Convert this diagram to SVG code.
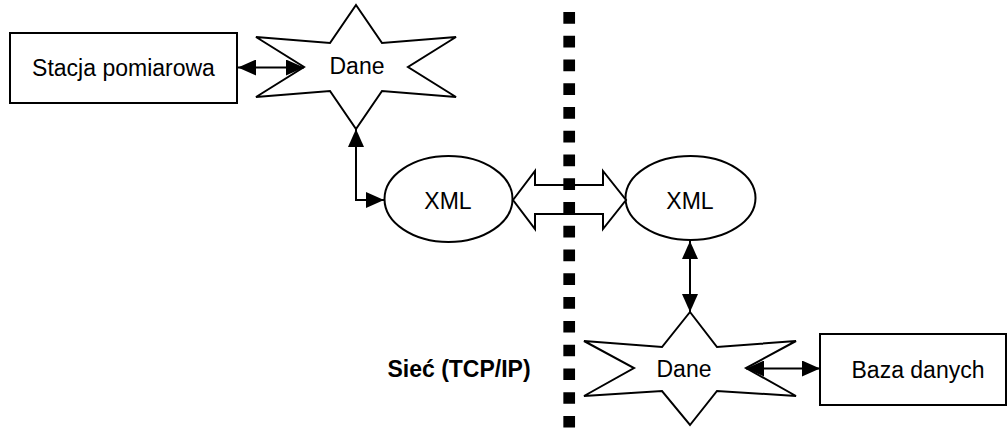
<svg xmlns="http://www.w3.org/2000/svg" width="1008" height="428" viewBox="0 0 1008 428">
  <style>
    .shape { fill: #fff; stroke: #000; stroke-width: 2; stroke-linejoin: miter; }
    .label { font-family: "Liberation Sans", Arial, sans-serif; font-size: 23px; fill: #000; text-anchor: middle; }
    .bold { font-weight: bold; }
    .conn { fill: none; stroke: #000; stroke-width: 2; }
  </style>
  <defs>
    <marker id="arrow" markerUnits="userSpaceOnUse" markerWidth="18" markerHeight="16" refX="18" refY="8" orient="auto-start-reverse">
      <path d="M0,0 L18,8 L0,16 z" fill="#000"/>
    </marker>
  </defs>

  <rect width="1008" height="428" fill="#fff"/>

  <g id="stacja">
    <rect class="shape" x="10" y="33" width="227" height="70"/>
    <text class="label" x="123.5" y="76">Stacja pomiarowa</text>
  </g>

  <g id="dane1">
    <polygon class="shape" points="356,5 382,43 456,37 408,67 456,97 382,91 356,129 330,91 256,97 304,67 256,37 330,43"/>
    <text class="label" x="357" y="74">Dane</text>
  </g>

  <g id="xml1">
    <ellipse class="shape" cx="448.5" cy="199" rx="64" ry="43"/>
    <text class="label" x="448" y="209">XML</text>
  </g>

  <g id="xml2">
    <ellipse class="shape" cx="690.5" cy="198" rx="65" ry="42"/>
    <text class="label" x="690" y="209">XML</text>
  </g>

  <g id="dane2">
    <polygon class="shape" points="690,312 717,347 796,341 746,368 796,396 717,391 690,425 662,391 584,396 634,368 584,341 662,347"/>
    <text class="label" x="684" y="377">Dane</text>
  </g>

  <g id="baza">
    <rect class="shape" x="820" y="334" width="186" height="71"/>
    <text class="label" x="918" y="378">Baza danych</text>
  </g>

  <g id="siec">
    <text class="label bold" x="459" y="377">Sieć (TCP/IP)</text>
  </g>

  <g id="connectors">
    <line class="conn" x1="238" y1="67.5" x2="304" y2="67.5" marker-start="url(#arrow)" marker-end="url(#arrow)"/>
    <polyline class="conn" points="356,129 356,200 384,200" marker-start="url(#arrow)" marker-end="url(#arrow)"/>
    <polygon class="shape" points="513,200 535,171 535,185 603,185 603,171 626,200 603,229 603,214 535,214 535,229"/>
    <line class="conn" x1="690" y1="241" x2="690" y2="312" marker-start="url(#arrow)" marker-end="url(#arrow)"/>
    <line class="conn" x1="746" y1="368.5" x2="820" y2="368.5" marker-start="url(#arrow)" marker-end="url(#arrow)"/>
  </g>

  <g id="granica">
    <line x1="569.2" y1="12" x2="569.2" y2="428" stroke="#000" stroke-width="11.7" stroke-dasharray="11.7 12.06"/>
  </g>
</svg>
